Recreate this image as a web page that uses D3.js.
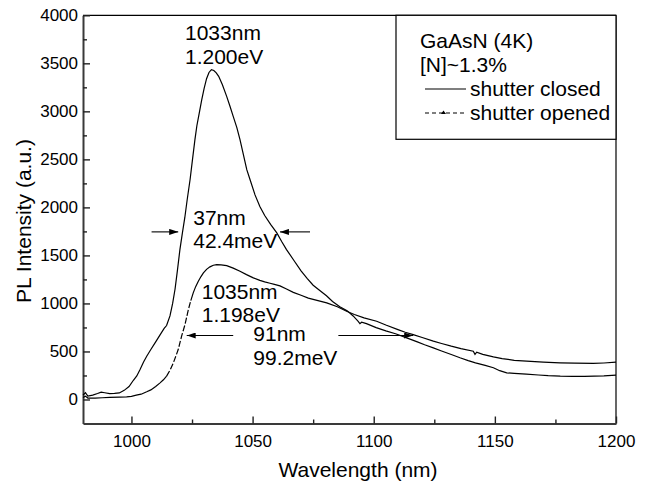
<!DOCTYPE html>
<html><head><meta charset="utf-8">
<script src="https://cdn.jsdelivr.net/npm/d3@7"></script>
<style>
body{margin:0;background:#fff}
svg{display:block}
text{font-family:"Liberation Sans",Arial,Helvetica,sans-serif;fill:#000}
</style>
</head><body>
<svg id="chart" width="652" height="485"></svg>
<script>
// ---- data ----
const closedWavelength = [980,981,982,984,986,987.5,989,991,993,995,997,999,1000.8,1002.2,1003.5,1005,1006.3,1008,1010,1012,1013.5,1014.5,1015.9,1017,1018,1019,1020,1021,1022,1023,1024.2,1025.2,1026.2,1027,1028,1029,1030,1031,1032,1033,1034,1035,1036,1037.5,1039.3,1040.7,1042,1043.5,1044.8,1046.2,1047.6,1049,1051,1053,1055,1057.5,1060,1062,1064,1067,1070,1072.5,1075,1078,1080.5,1083,1086,1089,1091.5,1093.5,1094.3,1095,1097,1101,1105,1109,1113.6,1118,1121,1124.6,1128,1132,1135.6,1139,1142,1146,1149.4,1152,1154.9,1158,1163,1168,1172,1177,1182,1187,1191,1195,1200];
const closedIntensity = [45,70,35,45,62,76,70,62,63,68,95,135,200,245,310,390,450,520,600,680,740,770,870,1000,1150,1350,1560,1730,1890,2080,2290,2500,2706,2850,2983,3120,3240,3340,3405,3434,3425,3400,3365,3280,3156,3050,2948,2830,2706,2550,2393,2285,2130,2010,1915,1820,1734,1645,1561,1450,1340,1260,1190,1130,1080,1020,965,925,870,815,790,805,790,748,715,685,642,600,570,538,505,468,434,405,382,355,330,300,278,272,265,255,248,243,241,240,243,246,253];
const openedWavelength = [980,981,982,985,988,991,995,998,1000,1002,1004,1006.3,1008,1010,1011.8,1013.2,1014.5,1016,1017.3,1018.3,1019.3,1020,1020.7,1022.1,1023.5,1024.5,1025.5,1026.5,1027.6,1028.7,1029.7,1031,1032.4,1033.8,1035.2,1037,1039.3,1042,1044.8,1047.5,1050.3,1053,1055,1057.2,1059,1061.3,1064,1066.8,1070,1073,1077,1080.6,1085,1088.8,1092,1096,1101.2,1105,1110,1113,1116.3,1120,1124.6,1128,1132,1136,1141.1,1141.8,1142.5,1145,1149.4,1153,1158,1163.1,1170,1176.9,1183,1190.6,1195,1200];
const openedIntensity = [20,35,15,14,18,22,25,28,32,45,55,80,100,135,173,205,243,310,382,450,520,590,659,780,937,1030,1110,1175,1231,1280,1318,1355,1381,1398,1405,1402,1394,1368,1335,1300,1266,1240,1225,1210,1198,1183,1150,1115,1085,1055,1030,1006,965,919,885,850,815,775,728,700,676,645,607,583,555,530,503,470,492,470,444,425,408,399,390,382,378,375,380,388];
const xMajorTicks = [1000,1050,1100,1150,1200];
const xMinorTicks = [1025,1075,1125,1175];
const yMajorTicks = [0,500,1000,1500,2000,2500,3000,3500,4000];
const yMinorTicks = [250,750,1250,1750,2250,2750,3250,3750];
const legendTitle = ["GaAsN (4K)", "[N]~1.3%"];
const seriesNames = ["shutter closed", "shutter opened"];
const xTitle = "Wavelength (nm)";
const yTitle = "PL Intensity (a.u.)";

// ---- layout ----
const svg = d3.select("#chart");
const L = 83, R = 616, T = 15.3, B = 423.5;
const x = d3.scaleLinear().domain([980,1200]).range([L,R]);
const y = d3.scaleLinear().domain([-250,4000]).range([B,T]);
const FONT = '"Liberation Sans",Arial,sans-serif';

const defs = svg.append("defs");
defs.append("marker").attr("id","ah").attr("viewBox","0 0 9 6")
  .attr("refX",9).attr("refY",3).attr("markerWidth",9).attr("markerHeight",6)
  .attr("markerUnits","userSpaceOnUse").attr("orient","auto")
  .append("path").attr("d","M0,0 L9,3 L0,6 Z").attr("fill","#000");

// frame top / right
svg.append("line").attr("x1",L).attr("x2",R).attr("y1",T).attr("y2",T).attr("stroke","#000").attr("stroke-width",1.2);
svg.append("line").attr("x1",R).attr("x2",R).attr("y1",T).attr("y2",B).attr("stroke","#000").attr("stroke-width",1.2);

// axes
const gx = svg.append("g").attr("transform",`translate(0,${B})`)
  .call(d3.axisBottom(x).tickValues(xMajorTicks).tickSizeInner(-7).tickSizeOuter(0).tickPadding(11.5).tickFormat(d3.format("d")));
const gxm = svg.append("g").attr("transform",`translate(0,${B})`)
  .call(d3.axisBottom(x).tickValues(xMinorTicks).tickSizeInner(-4).tickSizeOuter(0).tickFormat(""));
const gy = svg.append("g").attr("transform",`translate(${L},0)`)
  .call(d3.axisLeft(y).tickValues(yMajorTicks).tickSizeInner(-7).tickSizeOuter(0).tickPadding(5).tickFormat(d3.format("d")));
const gym = svg.append("g").attr("transform",`translate(${L},0)`)
  .call(d3.axisLeft(y).tickValues(yMinorTicks).tickSizeInner(-4).tickSizeOuter(0).tickFormat(""));
[gx,gxm,gy,gym].forEach(g=>{
  g.select(".domain").attr("stroke","#3a3a3a").attr("stroke-width",2);
  g.selectAll(".tick line").attr("stroke","#222").attr("stroke-width",1.4);
  g.selectAll(".tick text").attr("font-size",17).attr("font-family",FONT).attr("fill","#000");
});
gxm.select(".domain").remove(); gym.select(".domain").remove();

// axis titles
svg.append("text").attr("x",358).attr("y",477).attr("text-anchor","middle")
  .attr("font-size",21).text(xTitle);
svg.append("text").attr("transform",`translate(31,221) rotate(-90)`).attr("text-anchor","middle")
  .attr("font-size",21).text(yTitle);

// curves
const line = d3.line().x(d=>x(d[0])).y(d=>y(d[1]));
const closed = closedWavelength.map((w,i)=>[w,closedIntensity[i]]);
const opened = openedWavelength.map((w,i)=>[w,openedIntensity[i]]);
svg.append("path").datum(closed).attr("d",line).attr("fill","none").attr("stroke","#000").attr("stroke-width",1.2);
// opened: solid where dense, dashed on the steep edge
svg.append("path").datum(opened.filter(d=>d[0]<=1014.5)).attr("d",line).attr("fill","none").attr("stroke","#000").attr("stroke-width",1.2);
svg.append("path").datum(opened.filter(d=>d[0]>=1014.5 && d[0]<=1024.5)).attr("d",line).attr("fill","none").attr("stroke","#000").attr("stroke-width",1.2).attr("stroke-dasharray","6,2");
svg.append("path").datum(opened.filter(d=>d[0]>=1024.5)).attr("d",line).attr("fill","none").attr("stroke","#000").attr("stroke-width",1.2);

// annotations
function label(lines, wx, iy, dyPx){
  const t = svg.append("text").attr("font-size",21).attr("x",x(wx)).attr("y",y(iy));
  lines.forEach((s,i)=>t.append("tspan").attr("x",x(wx)).attr("dy", i===0?0:dyPx).text(s));
}
label(["1033nm","1.200eV"], 1022.1, 3746, 24);
label(["37nm","42.4meV"], 1025.5, 1821, 23.5);
label(["1035nm","1.198eV"], 1029, 1051, 23.5);
label(["91nm","99.2meV"], 1050.3, 614, 24);

function arrow(x1,x2,iy){
  svg.append("line").attr("x1",x(x1)).attr("x2",x(x2)).attr("y1",y(iy)).attr("y2",y(iy))
    .attr("stroke","#000").attr("stroke-width",1.1).attr("marker-end","url(#ah)");
}
arrow(1008.3,1019.3,1745);
arrow(1073.7,1061.3,1745);
arrow(1042,1022.8,666);
arrow(1085.4,1116.3,666);

// legend
const lg = svg.append("g");
lg.append("rect").attr("x",396).attr("y",T).attr("width",R-396).attr("height",124)
  .attr("fill","#fff").attr("stroke","#000").attr("stroke-width",1.2);
legendTitle.forEach((s,i)=>lg.append("text").attr("x",420).attr("y",48+i*24).attr("font-size",21).text(s));
seriesNames.forEach((s,i)=>{
  const yy = 96+i*24;
  lg.append("text").attr("x",470).attr("y",yy).attr("font-size",21).text(s);
  const ln = lg.append("line").attr("x1",425).attr("x2",466).attr("y1",yy-7).attr("y2",yy-7)
    .attr("stroke","#000").attr("stroke-width",1.2);
  if(i===1){
    ln.attr("stroke-dasharray","4,3");
    lg.append("path").attr("d",`M${443.5},${yy-9.5} L${446},${yy-6} L${441},${yy-6} Z`).attr("fill","#000");
  }
});
</script>
</body></html>
